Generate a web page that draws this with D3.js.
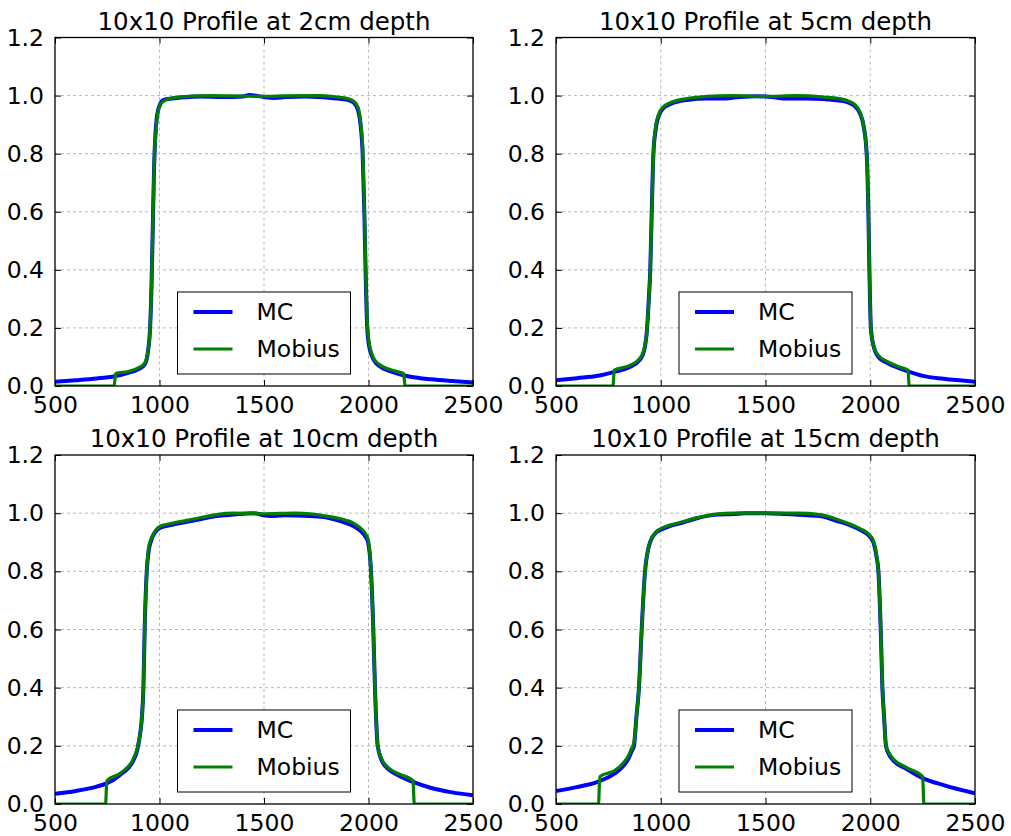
<!DOCTYPE html>
<html>
<head>
<meta charset="utf-8">
<script src="https://cdn.jsdelivr.net/npm/d3@7"></script>
<style>
  html, body { margin: 0; padding: 0; background: #fff; }
  svg { display: block; }
  text { font-family: "DejaVu Sans", sans-serif; fill: #000; }
</style>
</head>
<body>
<svg id="chart" width="1011" height="836"></svg>
<script>
// ---------- data ----------
const titles = ["10x10 Profile at 2cm depth", "10x10 Profile at 5cm depth",
                "10x10 Profile at 10cm depth", "10x10 Profile at 15cm depth"];
const seriesNames = ["MC", "Mobius"];
const xTicks = [500, 1000, 1500, 2000, 2500];
const yTicks = [0.0, 0.2, 0.4, 0.6, 0.8, 1.0, 1.2];

// 2 cm
const mc2x = [500,600,700,780,850,900,930,945,955,962,968,974,980,988,1000,1020,1060,1100,1200,1300,1400,1430,1500,1550,1600,1700,1800,1850,1900,1930,1950,1962,1972,1980,1986,1994,2005,2025,2060,2100,2150,2200,2300,2400,2500];
const mc2y = [0.015,0.02,0.026,0.033,0.045,0.058,0.075,0.12,0.2,0.35,0.55,0.75,0.86,0.93,0.965,0.985,0.99,0.993,0.997,0.995,0.997,1.002,0.995,0.992,0.995,0.997,0.993,0.99,0.985,0.975,0.95,0.9,0.8,0.6,0.4,0.2,0.13,0.09,0.065,0.052,0.04,0.032,0.023,0.017,0.012];
const mb2x = [500,783,790,850,900,930,945,955,962,968,974,982,992,1005,1030,1070,1150,1250,1400,1500,1600,1750,1850,1900,1930,1950,1962,1972,1980,1986,1994,2005,2025,2060,2100,2150,2168,2175,2500];
const mb2y = [0,0,0.043,0.05,0.063,0.08,0.12,0.2,0.35,0.55,0.75,0.87,0.94,0.97,0.985,0.993,0.998,1.0,0.998,0.997,0.999,1.0,0.995,0.99,0.98,0.96,0.91,0.82,0.62,0.42,0.22,0.14,0.095,0.07,0.058,0.047,0.043,0,0];

// 5 cm
const mc5x = [500,600,700,774,850,900,920,935,943,950,957,965,975,990,1010,1044,1124,1219,1300,1350,1450,1500,1550,1600,1700,1780,1850,1900,1925,1950,1967,1983,1991,1996,2003,2015,2039,2080,2142,2182,2250,2350,2500];
const mc5y = [0.02,0.027,0.035,0.048,0.065,0.09,0.12,0.2,0.3,0.4,0.6,0.8,0.88,0.93,0.955,0.97,0.985,0.99,0.99,0.993,0.998,0.997,0.993,0.99,0.99,0.988,0.983,0.975,0.965,0.94,0.9,0.8,0.6,0.4,0.2,0.14,0.1,0.08,0.06,0.05,0.035,0.025,0.015];
const mb5x = [500,772,778,850,900,920,935,943,950,957,965,975,990,1010,1044,1124,1219,1346,1500,1650,1780,1850,1900,1925,1950,1967,1983,1991,1996,2003,2015,2039,2080,2142,2180,2186,2500];
const mb5y = [0,0,0.055,0.07,0.095,0.125,0.2,0.3,0.4,0.6,0.8,0.89,0.935,0.96,0.975,0.99,0.997,1.0,0.997,1.0,0.995,0.99,0.98,0.97,0.945,0.9,0.8,0.6,0.4,0.2,0.14,0.105,0.085,0.065,0.055,0,0];

// 10 cm
const mc10x = [500,600,700,744,811,875,895,909,916,923,929,939,948,962,980,1003,1060,1130,1200,1274,1354,1450,1500,1550,1600,1721,1800,1896,1930,1960,1985,1998,2012,2023,2031,2044,2063,2095,2140,2216,2300,2400,2500];
const mc10y = [0.035,0.045,0.06,0.07,0.1,0.15,0.19,0.25,0.3,0.4,0.6,0.8,0.87,0.91,0.935,0.95,0.96,0.97,0.98,0.99,0.995,1.0,0.993,0.99,0.993,0.99,0.985,0.965,0.955,0.94,0.92,0.9,0.8,0.6,0.4,0.2,0.15,0.12,0.1,0.075,0.055,0.04,0.03];
const mb10x = [500,742,748,811,875,895,909,916,923,929,939,948,962,980,1003,1060,1130,1200,1274,1354,1500,1650,1800,1896,1930,1960,1985,1998,2012,2023,2031,2044,2063,2095,2140,2213,2219,2500];
const mb10y = [0,0,0.08,0.105,0.155,0.195,0.25,0.3,0.4,0.6,0.8,0.88,0.915,0.94,0.955,0.965,0.975,0.985,0.995,1.0,0.998,1.0,0.99,0.975,0.965,0.95,0.93,0.91,0.8,0.6,0.4,0.2,0.155,0.125,0.105,0.08,0,0];

// 15 cm
const mc15x = [500,600,705,780,820,845,860,872,884,896,909,925,949,980,1000,1040,1092,1160,1267,1346,1400,1500,1600,1700,1760,1856,1900,1951,1990,2015,2030,2039,2050,2058,2066,2075,2090,2110,2174,2253,2350,2500];
const mc15y = [0.045,0.058,0.078,0.105,0.13,0.155,0.18,0.2,0.3,0.4,0.6,0.8,0.9,0.935,0.943,0.955,0.965,0.98,0.995,0.997,1.0,1.0,0.997,0.993,0.99,0.97,0.96,0.943,0.925,0.9,0.85,0.8,0.6,0.4,0.3,0.2,0.17,0.15,0.12,0.088,0.065,0.037];
const mb15x = [500,703,709,780,820,845,860,872,884,896,909,925,949,980,1000,1040,1092,1160,1267,1346,1500,1650,1760,1856,1951,1990,2015,2030,2039,2050,2058,2066,2075,2090,2110,2174,2250,2256,2500];
const mb15y = [0,0,0.094,0.115,0.14,0.165,0.19,0.21,0.3,0.4,0.6,0.8,0.9,0.937,0.947,0.958,0.968,0.982,0.997,1.0,1.0,1.0,0.995,0.975,0.947,0.93,0.905,0.855,0.8,0.6,0.4,0.3,0.2,0.175,0.155,0.125,0.094,0,0];

const panelData = [
  [[mc2x, mc2y], [mb2x, mb2y]],
  [[mc5x, mc5y], [mb5x, mb5y]],
  [[mc10x, mc10y], [mb10x, mb10y]],
  [[mc15x, mc15y], [mb15x, mb15y]]
];

// ---------- layout ----------
const colors = ["#0000ff", "#008000"];
const widths = [4, 3.2];
const panels = [
  {x0: 55,  x1: 473, y0: 37.5, y1: 386},
  {x0: 556, x1: 975, y0: 37.5, y1: 386},
  {x0: 55,  x1: 473, y0: 455,  y1: 804},
  {x0: 556, x1: 975, y0: 455,  y1: 804}
];
const svg = d3.select("#chart");
const fs = 23.5;

panels.forEach((p, i) => {
  const x = d3.scaleLinear().domain([500, 2500]).range([p.x0, p.x1]);
  const y = d3.scaleLinear().domain([0, 1.2]).range([p.y1, p.y0]);
  const g = svg.append("g");

  // grid
  g.append("g").selectAll("line").data(xTicks.slice(1, -1)).join("line")
    .attr("x1", d => x(d)).attr("x2", d => x(d)).attr("y1", p.y0).attr("y2", p.y1)
    .attr("stroke", "#b8b8b8").attr("stroke-width", 1).attr("stroke-dasharray", "3,3");
  g.append("g").selectAll("line").data(yTicks.slice(1, -1)).join("line")
    .attr("y1", d => y(d)).attr("y2", d => y(d)).attr("x1", p.x0).attr("x2", p.x1)
    .attr("stroke", "#b8b8b8").attr("stroke-width", 1).attr("stroke-dasharray", "3,3");

  // lines
  const clipId = "clip" + i;
  svg.append("clipPath").attr("id", clipId).append("rect")
    .attr("x", p.x0).attr("y", p.y0).attr("width", p.x1 - p.x0).attr("height", p.y1 - p.y0);
  const line = d3.line().x(d => x(d[0])).y(d => y(d[1])).curve(d3.curveMonotoneX);
  panelData[i].forEach((s, k) => {
    const pts = s[0].map((xv, j) => [xv, s[1][j]]);
    g.append("path").datum(pts).attr("d", line)
      .attr("fill", "none").attr("stroke", colors[k]).attr("stroke-width", widths[k])
      .attr("stroke-linejoin", "round").attr("clip-path", `url(#${clipId})`);
  });

  // axes with inward ticks
  const h = p.y1 - p.y0, w = p.x1 - p.x0;
  const ax = (gen, tx, ty) => {
    const a = g.append("g").attr("transform", `translate(${tx},${ty})`).call(gen);
    a.select(".domain").remove();
    a.selectAll("line").attr("stroke", "#000").attr("stroke-width", 1);
    return a;
  };
  const xb = ax(d3.axisBottom(x).tickValues(xTicks).tickSizeInner(-6).tickSizeOuter(0).tickPadding(10)
      .tickFormat(d3.format("d")), 0, p.y1);
  xb.selectAll("text").attr("font-size", fs).attr("font-family", "DejaVu Sans").attr("fill", "#000").attr("dy", "0.71em");
  ax(d3.axisTop(x).tickValues(xTicks).tickSizeInner(-6).tickSizeOuter(0).tickFormat(""), 0, p.y0);
  const yl = ax(d3.axisLeft(y).tickValues(yTicks).tickSizeInner(-6).tickSizeOuter(0).tickPadding(11)
      .tickFormat(d3.format(".1f")), p.x0, 0);
  yl.selectAll("text").attr("font-size", fs).attr("font-family", "DejaVu Sans").attr("fill", "#000");
  ax(d3.axisRight(y).tickValues(yTicks).tickSizeInner(-6).tickSizeOuter(0).tickFormat(""), p.x1, 0);

  // frame
  g.append("rect").attr("x", p.x0).attr("y", p.y0).attr("width", w).attr("height", h)
    .attr("fill", "none").attr("stroke", "#000").attr("stroke-width", 1.3);

  // title
  g.append("text").attr("x", (p.x0 + p.x1) / 2).attr("y", p.y0 - 8)
    .attr("text-anchor", "middle").attr("font-size", 24.5).text(titles[i]);

  // legend
  const lw = 173, lh = 82;
  const lx = (p.x0 + p.x1) / 2 - lw / 2, ly = p.y1 - 12 - lh;
  const lg = g.append("g").attr("transform", `translate(${lx},${ly})`);
  lg.append("rect").attr("width", lw).attr("height", lh).attr("fill", "#fff")
    .attr("stroke", "#000").attr("stroke-width", 1);
  seriesNames.forEach((name, k) => {
    const ry = 20 + k * 37;
    lg.append("line").attr("x1", 16).attr("x2", 55).attr("y1", ry).attr("y2", ry)
      .attr("stroke", colors[k]).attr("stroke-width", widths[k]);
    lg.append("text").attr("x", 79).attr("y", ry).attr("dy", "0.36em")
      .attr("font-size", fs).text(name);
  });
});
</script>
</body>
</html>
